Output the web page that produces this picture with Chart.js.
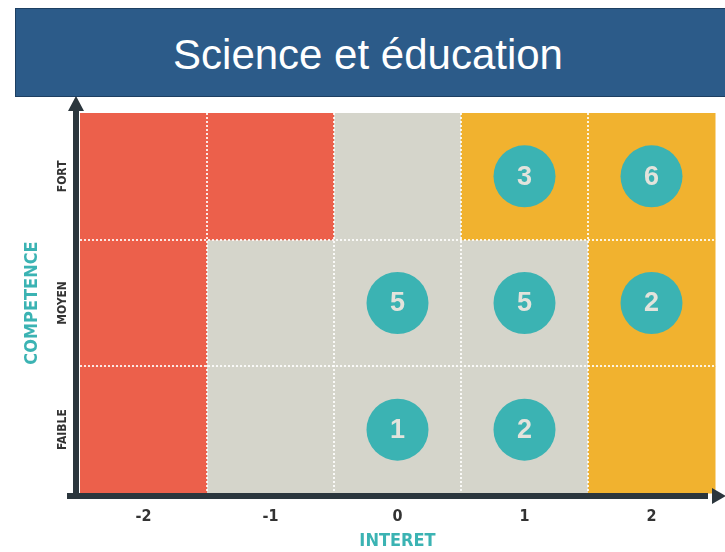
<!DOCTYPE html>
<html>
<head>
<meta charset="utf-8">
<script src="https://cdn.jsdelivr.net/npm/chart.js@4"></script>
<style>
  html, body { margin: 0; padding: 0; background: #fff; }
  #wrap { position: relative; width: 725px; height: 552px; }
  #banner {
    position: absolute; left: 15px; top: 8px; width: 712px; height: 89px;
    background: #2c5b89; border: 1px solid #1d3f62; box-sizing: border-box;
    color: #fff; font-family: 'Liberation Sans', Arial, sans-serif; font-size: 42px;
    line-height: 92px; text-align: center; padding-right: 6px;
  }
  canvas { position: absolute; left: 0; top: 0; }
</style>
</head>
<body>
<div id="wrap">
  <canvas id="chart" width="725" height="552"></canvas>
  <div id="banner">Science et éducation</div>
</div>
<script>
// interest levels (x) and competence levels (y)
const interets = [-2, -1, 0, 1, 2];
const competences = ['FAIBLE', 'MOYEN', 'FORT'];

// zone colour for each cell, rows from FAIBLE to FORT
const zones = [
  ['red', 'grey', 'grey', 'grey', 'orange'],
  ['red', 'grey', 'grey', 'grey', 'orange'],
  ['red', 'red', 'grey', 'orange', 'orange']
];
const zoneColors = { red: '#ec604b', grey: '#d5d5cb', orange: '#f1b22f' };

// bubbles: position and count
const bubbleX = [0, 1, 0, 1, 2, 1, 2];
const bubbleY = [0, 0, 1, 1, 1, 2, 2];
const bubbleCount = [1, 2, 5, 5, 2, 3, 6];

const dark = '#2b363d';
const teal = '#3bb3b3';

const cellsPlugin = {
  id: 'cells',
  beforeDatasetsDraw(chart) {
    const { ctx, scales: { x, y } } = chart;
    ctx.save();
    zones.forEach((row, j) => {
      row.forEach((zone, i) => {
        const x0 = x.getPixelForValue(interets[i] - 0.5);
        const x1 = x.getPixelForValue(interets[i] + 0.5);
        const y0 = y.getPixelForValue(j + 0.5);
        const y1 = y.getPixelForValue(j - 0.5);
        ctx.fillStyle = zoneColors[zone];
        ctx.fillRect(x0, y0, x1 - x0 + 0.5, y1 - y0 + 0.5);
      });
    });
    // dotted separators
    ctx.strokeStyle = 'rgba(255,255,255,0.85)';
    ctx.lineWidth = 2;
    ctx.setLineDash([2, 2]);
    for (let k = 0; k < interets.length - 1; k++) {
      const px = Math.round(x.getPixelForValue(interets[k] + 0.5));
      ctx.beginPath();
      ctx.moveTo(px, y.top);
      ctx.lineTo(px, y.bottom);
      ctx.stroke();
    }
    for (let k = 0; k < competences.length - 1; k++) {
      const py = Math.round(y.getPixelForValue(k + 0.5));
      ctx.beginPath();
      ctx.moveTo(x.left, py);
      ctx.lineTo(x.right, py);
      ctx.stroke();
    }
    ctx.setLineDash([]);

    // axes with arrow heads
    const ax = x.left - 4, ay = y.bottom + 3;
    ctx.fillStyle = dark;
    ctx.fillRect(ax - 3, y.top - 8, 6, ay - y.top + 11);
    ctx.fillRect(ax - 9, ay - 3, x.right - ax + 2, 6);
    ctx.beginPath();
    ctx.moveTo(ax, y.top - 17);
    ctx.lineTo(ax - 8, y.top - 2);
    ctx.lineTo(ax + 8, y.top - 2);
    ctx.closePath();
    ctx.fill();
    ctx.beginPath();
    ctx.moveTo(x.right + 11, ay);
    ctx.lineTo(x.right - 3, ay - 8);
    ctx.lineTo(x.right - 3, ay + 8);
    ctx.closePath();
    ctx.fill();
    ctx.restore();
  },
  afterDatasetsDraw(chart) {
    const { ctx } = chart;
    const meta = chart.getDatasetMeta(0);
    ctx.save();
    ctx.fillStyle = '#e3e3dc';
    ctx.font = 'bold 27px "Liberation Sans", Arial, sans-serif';
    ctx.textAlign = 'center';
    ctx.textBaseline = 'middle';
    meta.data.forEach((pt, i) => {
      ctx.fillText(String(bubbleCount[i]), pt.x, pt.y + 1);
    });
    ctx.restore();
  }
};

new Chart(document.getElementById('chart'), {
  type: 'bubble',
  data: {
    datasets: [{
      data: bubbleX.map((v, i) => ({ x: v, y: bubbleY[i], r: 31 })),
      backgroundColor: teal,
      borderColor: teal,
      borderWidth: 0,
      hoverRadius: 0
    }]
  },
  options: {
    responsive: false,
    animation: false,
    events: [],
    layout: { autoPadding: false, padding: { top: 113, right: 10, left: 0, bottom: 0 } },
    plugins: { legend: { display: false }, tooltip: { enabled: false } },
    scales: {
      x: {
        type: 'linear', min: -2.5, max: 2.5,
        afterBuildTicks(scale) { scale.ticks = interets.map(v => ({ value: v })); },
        afterFit(scale) { scale.height = 59; },
        grid: { display: false, drawTicks: false },
        border: { display: false },
        ticks: {
          color: '#333', padding: 14,
          font: { family: 'DejaVu Sans Condensed', weight: 'bold', size: 16 }
        },
        title: {
          display: true, text: 'INTERET', color: teal, padding: { top: 2, bottom: 0 },
          font: { family: 'DejaVu Sans Condensed', weight: 'bold', size: 18 }
        }
      },
      y: {
        type: 'linear', min: -0.5, max: 2.5,
        afterBuildTicks(scale) { scale.ticks = competences.map((c, i) => ({ value: i })); },
        afterFit(scale) { scale.width = 80; },
        grid: { display: false, drawTicks: false },
        border: { display: false },
        ticks: {
          color: '#333', padding: -5, minRotation: 90, maxRotation: 90,
          crossAlign: 'center',
          callback: (v) => competences[v],
          font: { family: 'DejaVu Sans Condensed', weight: 'bold', size: 12 }
        },
        title: {
          display: true, text: 'COMPETENCE', color: teal, padding: { top: 22, bottom: 0 },
          font: { family: 'DejaVu Sans Condensed', weight: 'bold', size: 18 }
        }
      }
    }
  },
  plugins: [cellsPlugin]
});
</script>
</body>
</html>
